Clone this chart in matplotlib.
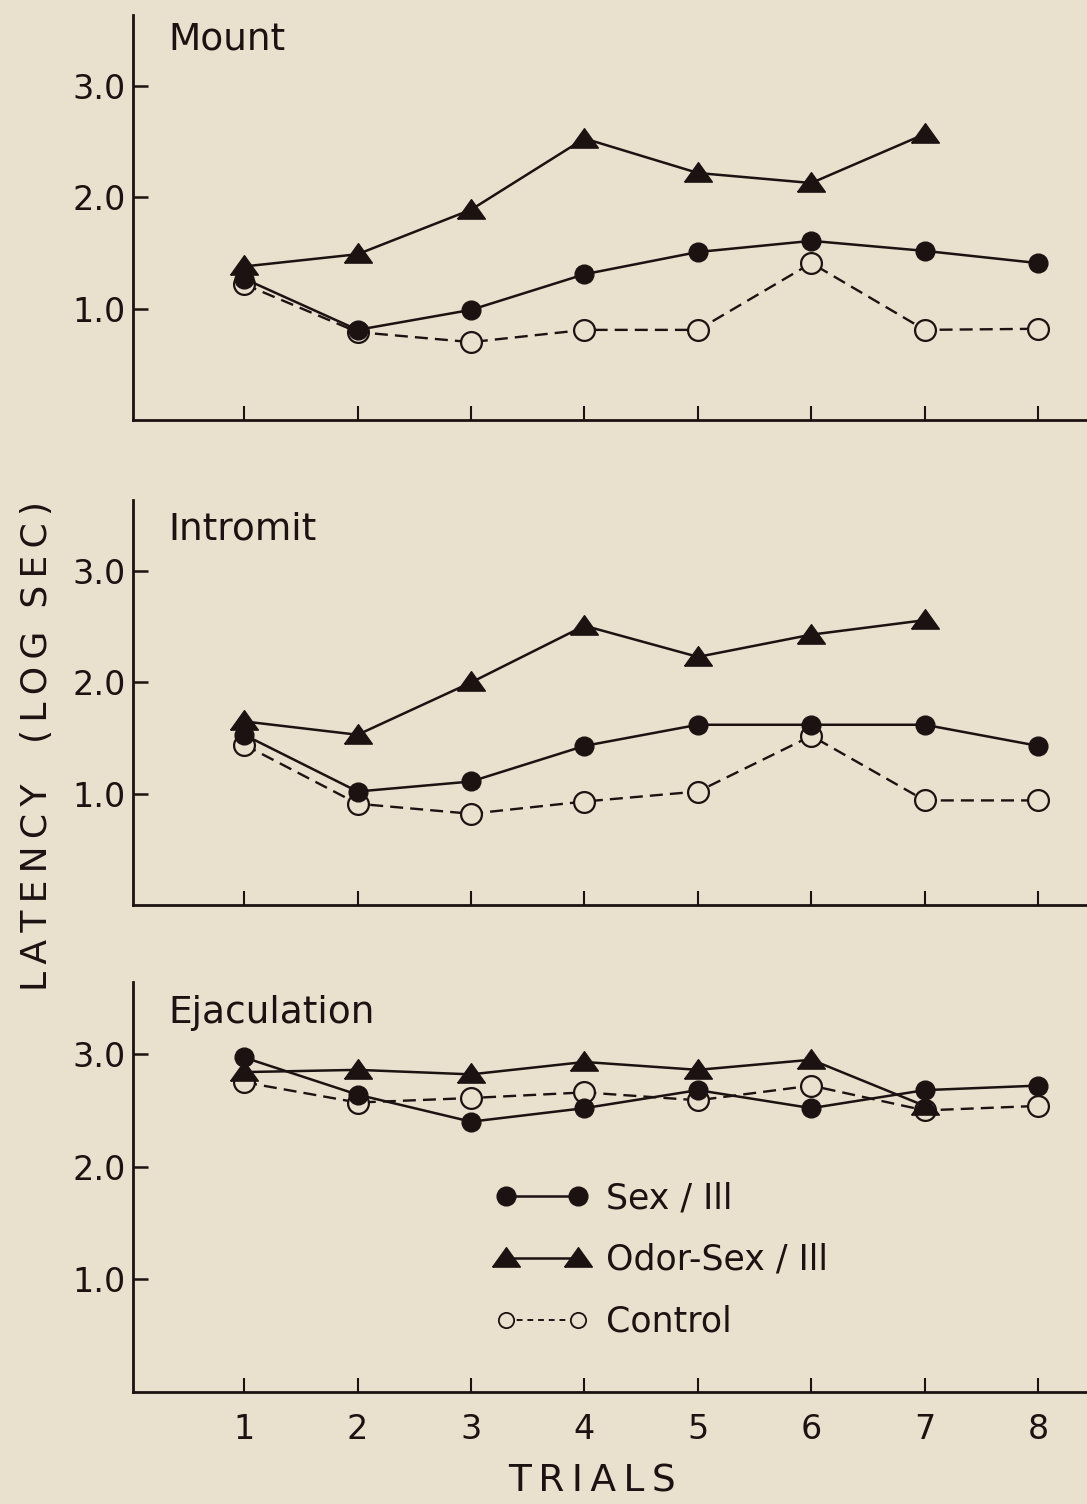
import matplotlib
matplotlib.use("Agg")
import matplotlib.pyplot as plt
from matplotlib.lines import Line2D

# ---- data -------------------------------------------------------------
trials = [1, 2, 3, 4, 5, 6, 7, 8]
odor_trials = [1, 2, 3, 4, 5, 6, 7]

panel_names = ["Mount", "Intromit", "Ejaculation"]

mount_sex = [1.27, 0.81, 0.99, 1.31, 1.51, 1.61, 1.52, 1.41]
mount_odor = [1.38, 1.49, 1.89, 2.53, 2.22, 2.13, 2.57]
mount_ctrl = [1.22, 0.79, 0.70, 0.81, 0.81, 1.41, 0.81, 0.82]

intro_sex = [1.53, 1.02, 1.11, 1.43, 1.62, 1.62, 1.62, 1.43]
intro_odor = [1.65, 1.53, 2.00, 2.51, 2.23, 2.43, 2.56]
intro_ctrl = [1.44, 0.91, 0.82, 0.93, 1.02, 1.52, 0.94, 0.94]

ejac_sex = [2.97, 2.64, 2.40, 2.52, 2.68, 2.52, 2.68, 2.72]
ejac_odor = [2.84, 2.86, 2.82, 2.93, 2.86, 2.95, 2.54]
ejac_ctrl = [2.75, 2.57, 2.61, 2.66, 2.59, 2.72, 2.50, 2.54]

y_ticks = [1.0, 2.0, 3.0]
y_tick_labels = ["1.0", "2.0", "3.0"]
x_tick_labels = ["1", "2", "3", "4", "5", "6", "7", "8"]

series_labels = ["Sex / Ill", "Odor-Sex / Ill", "Control"]


def spaced(s):
    """Open up the letter spacing with thin spaces."""
    return "\u2009".join(s)


# ---- style ------------------------------------------------------------
BG = "#E9E0CE"
INK = "#1C1212"
plt.rcParams["font.family"] = ["DejaVu Sans"]

# wide, flat triangle marker
tri = [(-1.0, -0.62), (1.0, -0.62), (0.0, 0.78), (-1.0, -0.62)]

fig = plt.figure(figsize=(10.87, 15.04), dpi=100, facecolor=BG)

W, H = 1087.0, 1504.0
left = 133 / W
width = (W - 133) / W
panels = [
    (mount_sex, mount_odor, mount_ctrl, 420, 405, 34),
    (intro_sex, intro_odor, intro_ctrl, 905, 405, 40),
    (ejac_sex, ejac_odor, ejac_ctrl, 1392, 410, 41),
]

axes = []
for i, (sx, od, ct, bot_px, h_px, title_off) in enumerate(panels):
    ax = fig.add_axes([left, (H - bot_px) / H, width, h_px / H])
    ax.set_facecolor(BG)
    axes.append(ax)

    ax.plot(trials, ct, color=INK, lw=1.7, ls=(0, (5.5, 3.0)),
            marker="o", ms=15, mfc=BG, mec=INK, mew=1.6, zorder=3)
    ax.plot(trials, sx, color=INK, lw=1.8, marker="o", ms=13.5,
            mfc=INK, mec=INK, zorder=4)
    ax.plot(odor_trials, od, color=INK, lw=1.8, marker=tri, ms=20,
            mfc=INK, mec=INK, zorder=5)

    ax.set_xlim(0.02, 8.43)
    ax.set_ylim(0.0, 3.64)
    for s in ("top", "right"):
        ax.spines[s].set_visible(False)
    for s in ("left", "bottom"):
        ax.spines[s].set_color(INK)
        ax.spines[s].set_linewidth(2.0)

    ax.set_yticks(y_ticks)
    ax.set_yticklabels(y_tick_labels)
    ax.set_xticks(trials)
    ax.tick_params(axis="y", direction="in", length=11, width=1.8,
                   colors=INK, labelsize=24, pad=5)
    ax.tick_params(axis="x", direction="in", length=10, width=1.5,
                   colors=INK, labelsize=24, pad=15)
    if i < 2:
        ax.set_xticklabels([])
    else:
        ax.set_xticklabels(x_tick_labels)

    ax.text(0.037, 1 - title_off / h_px, panel_names[i], transform=ax.transAxes,
            ha="left", va="baseline", fontsize=27, color=INK)

# legend in the lowest panel
handles = [
    Line2D([], [], color=INK, lw=1.8, marker="o", ms=13.5, mfc=INK, mec=INK),
    Line2D([], [], color=INK, lw=1.8, marker=tri, ms=20, mfc=INK, mec=INK),
    Line2D([], [], color=INK, lw=1.4, ls=(0, (3, 2.5)), marker="o", ms=11,
           mfc=BG, mec=INK, mew=1.3),
]
leg = axes[2].legend(handles, series_labels, loc="upper left", numpoints=2,
                     bbox_to_anchor=(0.365, 0.548), frameon=False,
                     fontsize=25, handlelength=2.7, handletextpad=0.5,
                     labelspacing=0.8, borderaxespad=0)
for t in leg.get_texts():
    t.set_color(INK)

fig.text(592 / W, 1 - 1482 / H, spaced("TRIALS"), ha="center", va="center",
         fontsize=27, color=INK)
fig.text(37 / W, 1 - 887 / H, spaced("LATENCY"), ha="center",
         va="center", rotation=90, fontsize=26, color=INK)
fig.text(37 / W, 1 - 622 / H, spaced("(LOG") + "  " + spaced("SEC)"),
         ha="center", va="center", rotation=90, fontsize=26, color=INK)

fig.savefig("out.png", dpi=100, facecolor=BG)
